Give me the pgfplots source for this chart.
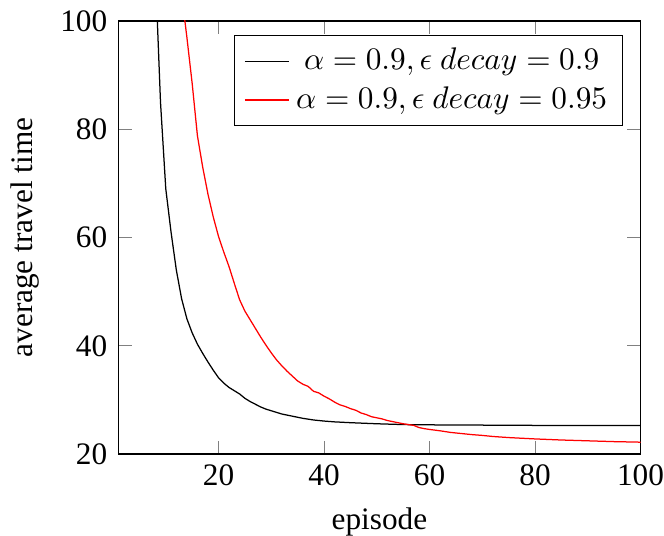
\documentclass[border=0pt]{standalone}
\usepackage[no-math]{fontspec}
\setmainfont{Liberation Serif}
\usepackage{pgfplots}
\pgfplotsset{compat=1.18}
\pgfplotsset{legend image code/.code={\draw[#1] (0cm,0cm) -- (0.5cm,0cm);}}

\begin{document}
\begin{tikzpicture}
  \begin{axis}[
    scale only axis,
    width=167pt, height=138.5pt,
    xmin=1, xmax=100,
    ymin=20, ymax=100,
    xtick={20,40,60,80,100},
    xticklabels={20,40,60,80,100},
    ytick={20,40,60,80,100},
    yticklabels={20,40,60,80,100},
    xticklabel style={inner xsep=0pt},
    xlabel={episode},
    xlabel style={inner ysep=0pt, yshift=-3.3pt},
    ylabel={average travel time},
    legend cell align=center,
    legend style={at={(0.967,0.968)}, anchor=north east},
  ]
  % epsilon decay 0.9
  \addplot[black] coordinates {
    (7,135)(8,110)(9,85)(10,69)(11,61)(12,54)(13,48.7)(14,45)(15,42.4)
    (16,40.3)(17,38.6)(18,37.0)(19,35.5)(20,34.1)(21,33.1)(22,32.3)
    (23,31.7)(24,31.1)(25,30.3)(26,29.7)(27,29.2)(28,28.7)(29,28.3)
    (30,28.0)(32,27.4)(34,27.0)(36,26.6)(38,26.3)(40,26.1)(42,25.95)
    (45,25.8)(50,25.6)(55,25.45)(60,25.4)(70,25.35)(80,25.3)(90,25.3)
    (100,25.3)
  };
  % epsilon decay 0.95
  \addplot[red] coordinates {
    (12,116)(13,105)(14,97)(15,88.5)(16,78.8)(17,73)(18,68)(19,63.8)
    (20,60.2)(21,57.3)(22,54.6)(23,51.5)(24,48.5)(25,46.4)(26,44.8)
    (27,43.2)(28,41.6)(29,40.1)(30,38.7)(31,37.4)(32,36.3)(33,35.3)
    (34,34.4)(35,33.5)(36,32.9)(37,32.5)(38,31.6)(39,31.3)(40,30.7)
    (41,30.2)(42,29.6)(43,29.1)(44,28.8)(45,28.4)(46,28.1)(47,27.6)
    (48,27.3)(49,26.9)(50,26.7)(51,26.5)(52,26.2)(53,26.0)(54,25.8)
    (55,25.6)(56,25.45)(57,25.3)(58,24.9)(59,24.7)(60,24.55)(62,24.3)
    (64,24.0)(66,23.8)(68,23.6)(70,23.45)(72,23.25)(75,23.05)(80,22.8)
    (85,22.6)(90,22.45)(95,22.3)(100,22.2)
  };
  \legend{{$\alpha=0.9, \epsilon\ decay=0.9$}, {$\alpha=0.9, \epsilon\ decay=0.95$}}
  \end{axis}
\end{tikzpicture}
\end{document}
